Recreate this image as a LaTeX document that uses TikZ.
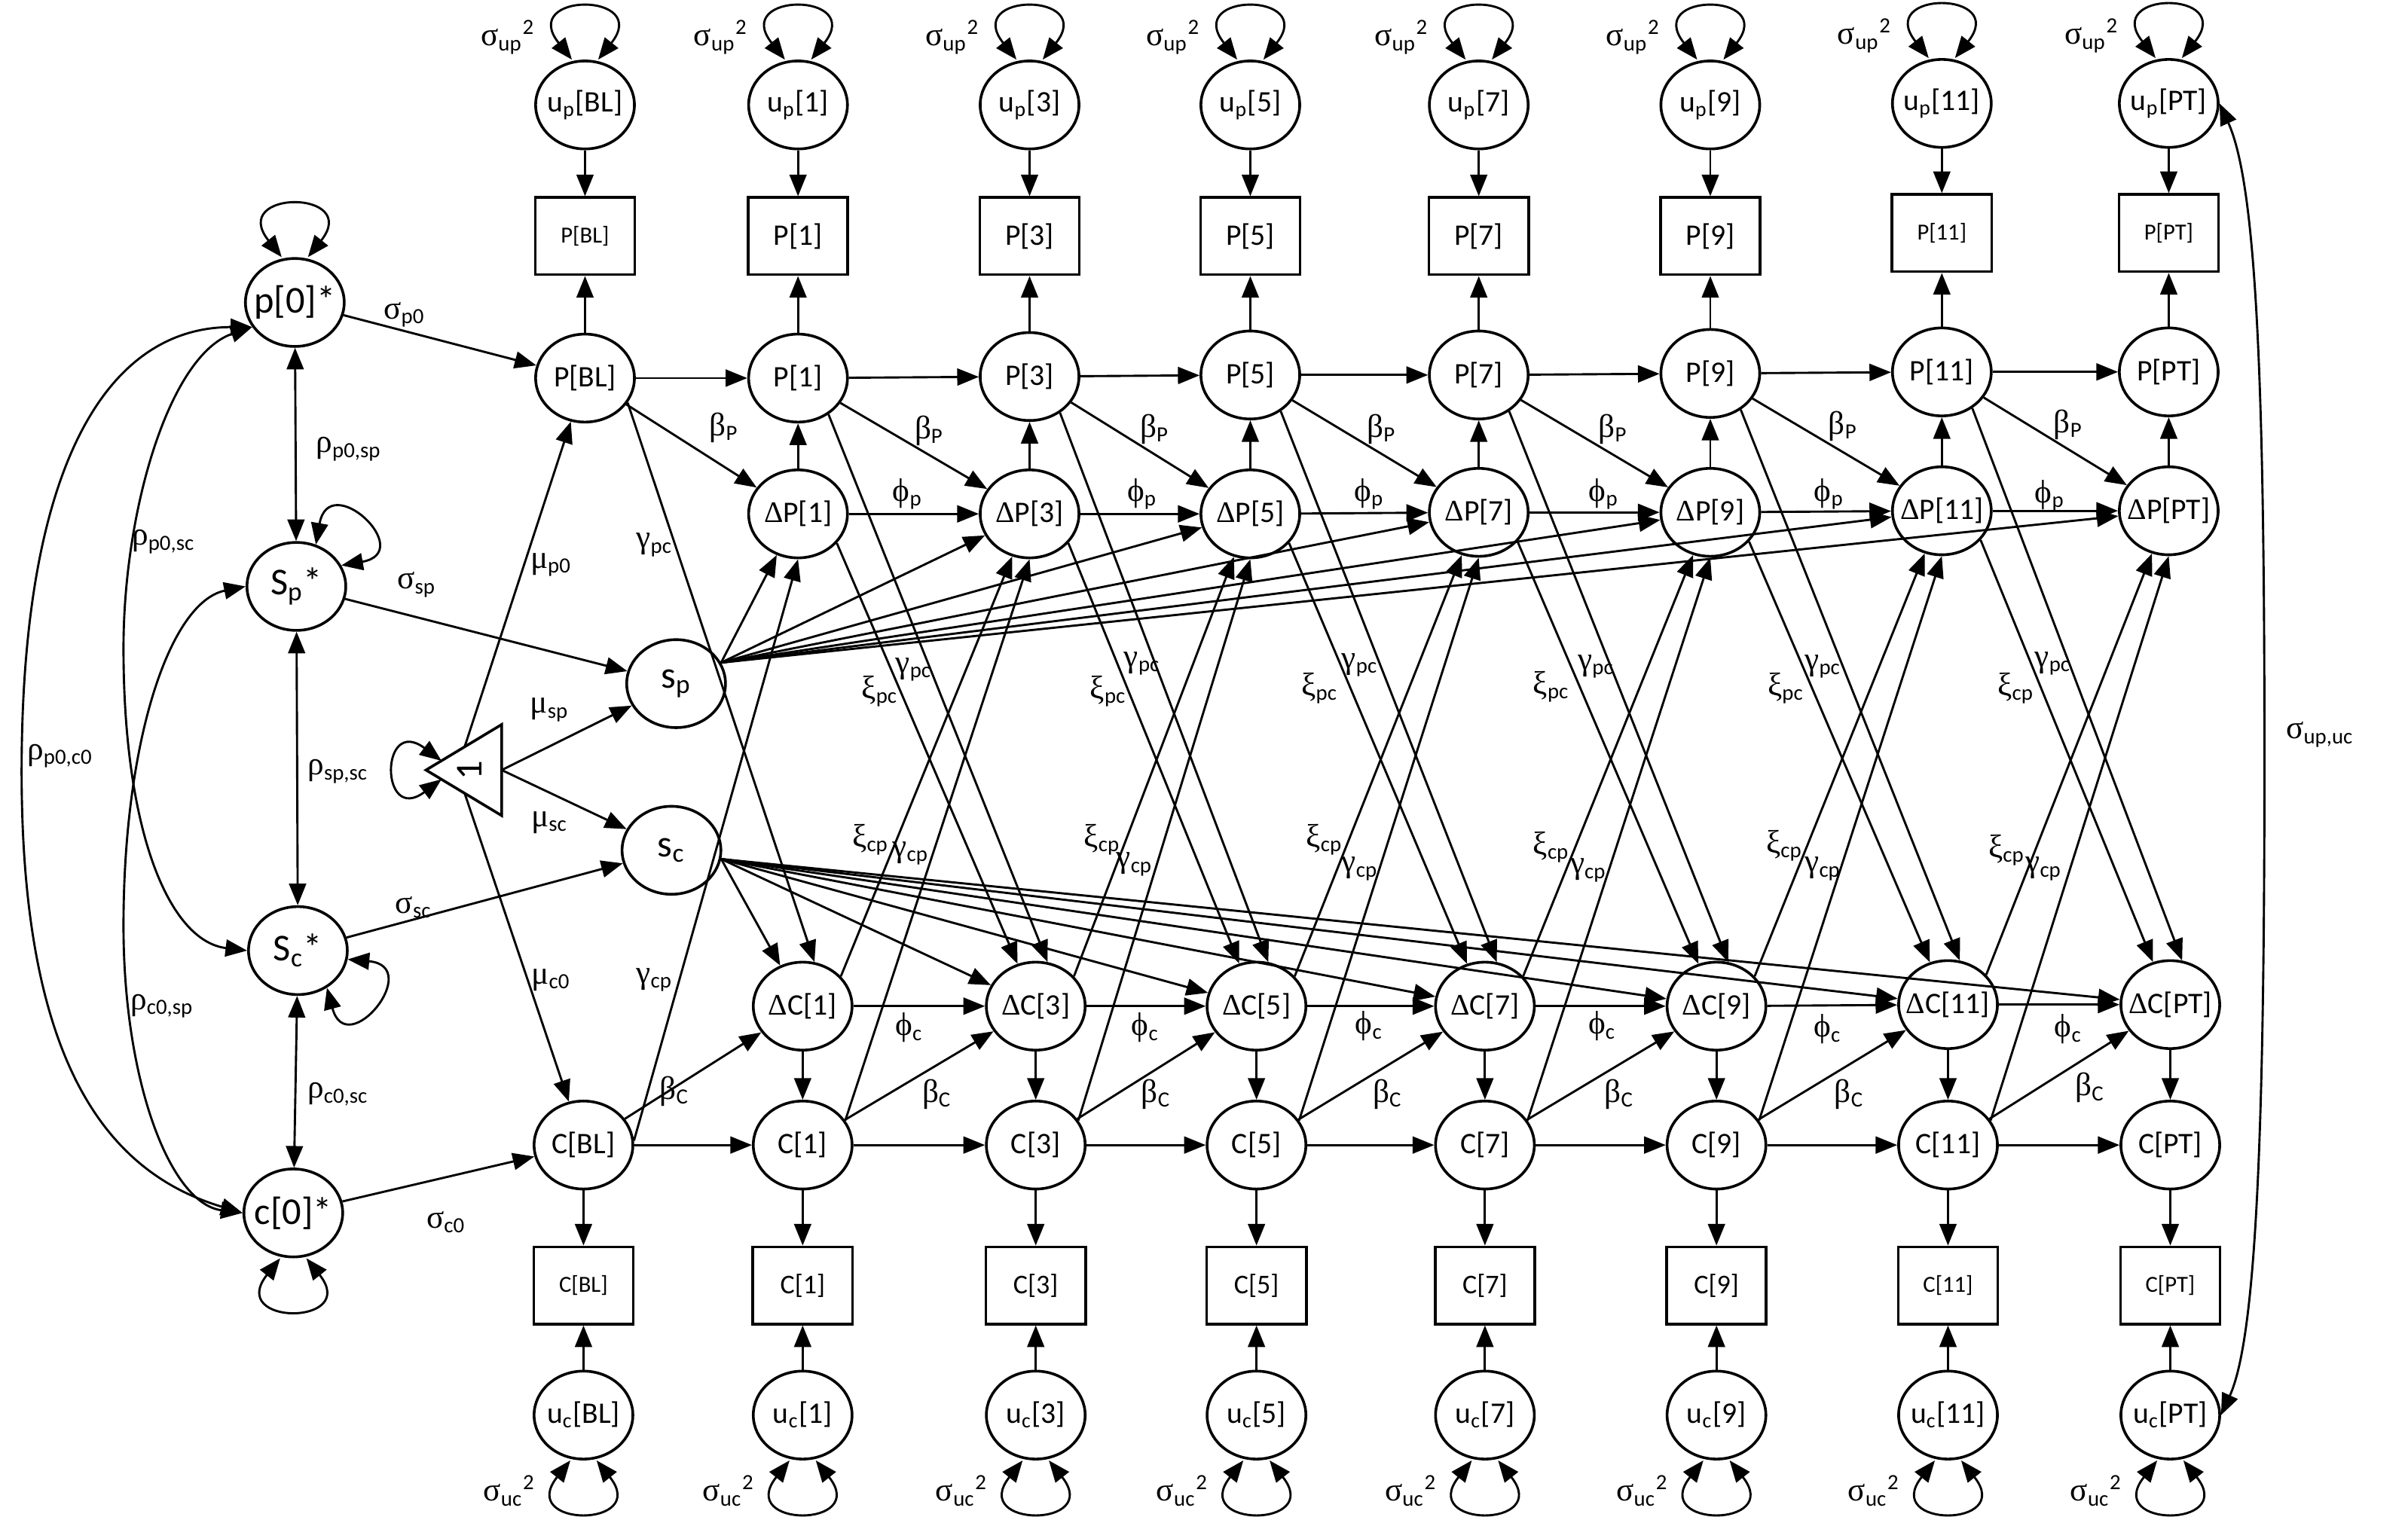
\documentclass[tikz,border=0pt]{standalone}
\usepackage{fontspec}
\setmainfont{Carlito}
\newfontfamily\grk{Liberation Serif}
\usetikzlibrary{arrows.meta,shapes.geometric}
\newcommand{\gsub}[2]{{\grk #1}\textsubscript{#2}}

\begin{document}
\begin{tikzpicture}[x=0.2mm, y=-0.2mm, line width=0.8pt, >={Triangle[length=2.8mm,width=2.2mm]},
lat/.style={draw=black, ellipse, minimum width=12.8mm, minimum height=11.4mm, inner sep=-2.5mm, line width=1pt, font=\fontsize{11}{13}\selectfont},
big/.style={font=\fontsize{14}{16}\selectfont},
obs/.style={draw=black, rectangle, minimum width=12.9mm, minimum height=10mm, inner sep=0pt, line width=1pt, font=\fontsize{11}{13}\selectfont},
obsc/.style={obs, font=\fontsize{10}{12}\selectfont},
obss/.style={obs, font=\fontsize{8.5}{10}\selectfont},
lab/.style={inner sep=0pt, font=\fontsize{12}{14}\selectfont}]

\useasboundingbox (0,0) rectangle (1560,982.6);

\node [lat, big] (p0) at (191,196) {p[0]*};
\node [lat, big] (sps) at (192,380) {S\textsubscript{p}*};
\node [lat, big] (scs) at (193,616) {S\textsubscript{c}*};
\node [lat, big] (c0) at (190,786) {c[0]*};
\node [lat, big] (s_p) at (438,443) {s\textsubscript{p}};
\node [lat, big] (s_c) at (435,551) {s\textsubscript{c}};

\coordinate (tri_apex) at (276,499);
\coordinate (tri_top) at (325,469.5);
\coordinate (tri_bot) at (325,528.5);
\coordinate (tri_up) at (301,484);
\coordinate (tri_lo) at (301,514);
\coordinate (tri_base) at (325,499);
\coordinate (tri_l1) at (286,493);
\coordinate (tri_l2) at (286,505);
\draw[line width=1pt] (tri_apex)--(tri_top)--(tri_bot)--cycle;
\node [rotate=90, font=\fontsize{14}{16}\selectfont] (one) at (304,499) {1};

\node [lat] (up_bl) at (379,68) {u\textsubscript{p}[BL]};
\node [lat] (up_1) at (517,68) {u\textsubscript{p}[1]};
\node [lat] (up_3) at (667,68) {u\textsubscript{p}[3]};
\node [lat] (up_5) at (810,68) {u\textsubscript{p}[5]};
\node [lat] (up_7) at (958,68) {u\textsubscript{p}[7]};
\node [lat] (up_9) at (1108,68) {u\textsubscript{p}[9]};
\node [lat] (up_11) at (1258,67) {u\textsubscript{p}[11]};
\node [lat] (up_pt) at (1405,67) {u\textsubscript{p}[PT]};

\node [obss] (pbox_bl) at (379,153) {P[BL]};
\node [obs] (pbox_1) at (517,153) {P[1]};
\node [obs] (pbox_3) at (667,153) {P[3]};
\node [obs] (pbox_5) at (810,153) {P[5]};
\node [obs] (pbox_7) at (958,153) {P[7]};
\node [obs] (pbox_9) at (1108,153) {P[9]};
\node [obss] (pbox_11) at (1258,151) {P[11]};
\node [obss] (pbox_pt) at (1405,151) {P[PT]};

\node [lat] (p_bl) at (379,245) {P[BL]};
\node [lat] (p_1) at (517,245) {P[1]};
\node [lat] (p_3) at (667,244) {P[3]};
\node [lat] (p_5) at (810,243) {P[5]};
\node [lat] (p_7) at (958,243) {P[7]};
\node [lat] (p_9) at (1108,242) {P[9]};
\node [lat] (p_11) at (1258,241) {P[11]};
\node [lat] (p_pt) at (1405,241) {P[PT]};

\node [lat] (dp_1) at (517,333) {{\grk Δ}P[1]};
\node [lat] (dp_3) at (667,333) {{\grk Δ}P[3]};
\node [lat] (dp_5) at (810,333) {{\grk Δ}P[5]};
\node [lat] (dp_7) at (958,332) {{\grk Δ}P[7]};
\node [lat] (dp_9) at (1108,332) {{\grk Δ}P[9]};
\node [lat] (dp_11) at (1258,331) {{\grk Δ}P[11]};
\node [lat] (dp_pt) at (1405,331) {{\grk Δ}P[PT]};

\node [lat] (dc_1) at (520,652) {{\grk Δ}C[1]};
\node [lat] (dc_3) at (671,652) {{\grk Δ}C[3]};
\node [lat] (dc_5) at (814,652) {{\grk Δ}C[5]};
\node [lat] (dc_7) at (962,652) {{\grk Δ}C[7]};
\node [lat] (dc_9) at (1112,652) {{\grk Δ}C[9]};
\node [lat] (dc_11) at (1262,651) {{\grk Δ}C[11]};
\node [lat] (dc_pt) at (1406,651) {{\grk Δ}C[PT]};

\node [lat] (c_bl) at (378,742) {C[BL]};
\node [lat] (c_1) at (520,742) {C[1]};
\node [lat] (c_3) at (671,742) {C[3]};
\node [lat] (c_5) at (814,742) {C[5]};
\node [lat] (c_7) at (962,742) {C[7]};
\node [lat] (c_9) at (1112,742) {C[9]};
\node [lat] (c_11) at (1262,742) {C[11]};
\node [lat] (c_pt) at (1406,742) {C[PT]};

\node [obss] (cbox_bl) at (378,833) {C[BL]};
\node [obsc] (cbox_1) at (520,833) {C[1]};
\node [obsc] (cbox_3) at (671,833) {C[3]};
\node [obsc] (cbox_5) at (814,833) {C[5]};
\node [obsc] (cbox_7) at (962,833) {C[7]};
\node [obsc] (cbox_9) at (1112,833) {C[9]};
\node [obss] (cbox_11) at (1262,833) {C[11]};
\node [obss] (cbox_pt) at (1406,833) {C[PT]};

\node [lat] (uc_bl) at (378,917) {u\textsubscript{c}[BL]};
\node [lat] (uc_1) at (520,917) {u\textsubscript{c}[1]};
\node [lat] (uc_3) at (671,917) {u\textsubscript{c}[3]};
\node [lat] (uc_5) at (814,917) {u\textsubscript{c}[5]};
\node [lat] (uc_7) at (962,917) {u\textsubscript{c}[7]};
\node [lat] (uc_9) at (1112,917) {u\textsubscript{c}[9]};
\node [lat] (uc_11) at (1262,917) {u\textsubscript{c}[11]};
\node [lat] (uc_pt) at (1406,917) {u\textsubscript{c}[PT]};

\node [lab] (vup_bl) at (329,24) {\gsub{σ}{up}\textsuperscript{2}};
\node [lab] (vup_1) at (467,24) {\gsub{σ}{up}\textsuperscript{2}};
\node [lab] (vup_3) at (617,24) {\gsub{σ}{up}\textsuperscript{2}};
\node [lab] (vup_5) at (760,24) {\gsub{σ}{up}\textsuperscript{2}};
\node [lab] (vup_7) at (908,24) {\gsub{σ}{up}\textsuperscript{2}};
\node [lab] (vup_9) at (1058,24) {\gsub{σ}{up}\textsuperscript{2}};
\node [lab] (vup_11) at (1208,23) {\gsub{σ}{up}\textsuperscript{2}};
\node [lab] (vup_pt) at (1355,23) {\gsub{σ}{up}\textsuperscript{2}};

\node [lab] (vuc_bl) at (330,966) {\gsub{σ}{uc}\textsuperscript{2}};
\node [lab] (vuc_1) at (472,966) {\gsub{σ}{uc}\textsuperscript{2}};
\node [lab] (vuc_3) at (623,966) {\gsub{σ}{uc}\textsuperscript{2}};
\node [lab] (vuc_5) at (766,966) {\gsub{σ}{uc}\textsuperscript{2}};
\node [lab] (vuc_7) at (914,966) {\gsub{σ}{uc}\textsuperscript{2}};
\node [lab] (vuc_9) at (1064,966) {\gsub{σ}{uc}\textsuperscript{2}};
\node [lab] (vuc_11) at (1214,966) {\gsub{σ}{uc}\textsuperscript{2}};
\node [lab] (vuc_pt) at (1358,966) {\gsub{σ}{uc}\textsuperscript{2}};

\node [lab] (l_sp0) at (262,204) {\gsub{σ}{p0}};
\node [lab] (l_ssp) at (270,379) {\gsub{σ}{sp}};
\node [lab] (l_ssc) at (268,588) {\gsub{σ}{sc}};
\node [lab] (l_sc0) at (289,792) {\gsub{σ}{c0}};
\node [lab] (l_rp0sp) at (226,291) {\gsub{ρ}{p0,sp}};
\node [lab] (l_rp0sc) at (106,351) {\gsub{ρ}{p0,sc}};
\node [lab] (l_rp0c0) at (39,490) {\gsub{ρ}{p0,c0}};
\node [lab] (l_rspsc) at (219,500) {\gsub{ρ}{sp,sc}};
\node [lab] (l_rc0sp) at (105,652) {\gsub{ρ}{c0,sp}};
\node [lab] (l_rc0sc) at (219,709) {\gsub{ρ}{c0,sc}};
\node [lab] (l_mp0) at (357,366) {\gsub{μ}{p0}};
\node [lab] (l_msp) at (356,460) {\gsub{μ}{sp}};
\node [lab] (l_msc) at (356,533) {\gsub{μ}{sc}};
\node [lab] (l_mc0) at (357,635) {\gsub{μ}{c0}};
\node [lab] (l_spuc) at (1503,476) {\gsub{σ}{up,uc}};

\node [lab] (l_gpc_bl) at (424,353) {\gsub{γ}{pc}};
\node [lab] (l_gcp_bl) at (424,635) {\gsub{γ}{cp}};

\node [lab] (l_bp_1) at (469,277) {\gsub{β}{P}};
\node [lab] (l_bp_3) at (602,279) {\gsub{β}{P}};
\node [lab] (l_bp_5) at (748,278) {\gsub{β}{P}};
\node [lab] (l_bp_7) at (895,278) {\gsub{β}{P}};
\node [lab] (l_bp_9) at (1045,278) {\gsub{β}{P}};
\node [lab] (l_bp_11) at (1194,276) {\gsub{β}{P}};
\node [lab] (l_bp_pt) at (1340,275) {\gsub{β}{P}};

\node [lab] (l_bc_1) at (437,707) {\gsub{β}{C}};
\node [lab] (l_bc_3) at (607,709) {\gsub{β}{C}};
\node [lab] (l_bc_5) at (749,709) {\gsub{β}{C}};
\node [lab] (l_bc_7) at (899,709) {\gsub{β}{C}};
\node [lab] (l_bc_9) at (1049,709) {\gsub{β}{C}};
\node [lab] (l_bc_11) at (1198,709) {\gsub{β}{C}};
\node [lab] (l_bc_pt) at (1354,705) {\gsub{β}{C}};

\node [lab] (l_fp_3) at (588,320) {\gsub{ϕ}{p}};
\node [lab] (l_fp_5) at (740,320) {\gsub{ϕ}{p}};
\node [lab] (l_fp_7) at (887,320) {\gsub{ϕ}{p}};
\node [lab] (l_fp_9) at (1039,320) {\gsub{ϕ}{p}};
\node [lab] (l_fp_11) at (1185,320) {\gsub{ϕ}{p}};
\node [lab] (l_fp_pt) at (1328,321) {\gsub{ϕ}{p}};

\node [lab] (l_fc_3) at (589,666) {\gsub{ϕ}{c}};
\node [lab] (l_fc_5) at (742,666) {\gsub{ϕ}{c}};
\node [lab] (l_fc_7) at (887,665) {\gsub{ϕ}{c}};
\node [lab] (l_fc_9) at (1038,665) {\gsub{ϕ}{c}};
\node [lab] (l_fc_11) at (1184,667) {\gsub{ϕ}{c}};
\node [lab] (l_fc_pt) at (1340,667) {\gsub{ϕ}{c}};

\node [lab] (l_xpc_3) at (570,448) {\gsub{ξ}{pc}};
\node [lab] (l_gpc_3) at (592,434) {\gsub{γ}{pc}};
\node [lab] (l_xpc_5) at (718,448) {\gsub{ξ}{pc}};
\node [lab] (l_gpc_5) at (740,430) {\gsub{γ}{pc}};
\node [lab] (l_xpc_7) at (855,446) {\gsub{ξ}{pc}};
\node [lab] (l_gpc_7) at (881,431) {\gsub{γ}{pc}};
\node [lab] (l_xpc_9) at (1005,445) {\gsub{ξ}{pc}};
\node [lab] (l_gpc_9) at (1034,432) {\gsub{γ}{pc}};
\node [lab] (l_xpc_11) at (1157,446) {\gsub{ξ}{pc}};
\node [lab] (l_gpc_11) at (1181,432) {\gsub{γ}{pc}};
\node [lab] (l_xpc_pt) at (1306,446) {\gsub{ξ}{cp}};
\node [lab] (l_gpc_pt) at (1330,430) {\gsub{γ}{pc}};

\node [lab] (l_xcp_3) at (564,544) {\gsub{ξ}{cp}};
\node [lab] (l_gcp_3) at (590,553) {\gsub{γ}{cp}};
\node [lab] (l_xcp_5) at (714,544) {\gsub{ξ}{cp}};
\node [lab] (l_gcp_5) at (735,560) {\gsub{γ}{cp}};
\node [lab] (l_xcp_7) at (858,544) {\gsub{ξ}{cp}};
\node [lab] (l_gcp_7) at (881,563) {\gsub{γ}{cp}};
\node [lab] (l_xcp_9) at (1005,549) {\gsub{ξ}{cp}};
\node [lab] (l_gcp_9) at (1029,564) {\gsub{γ}{cp}};
\node [lab] (l_xcp_11) at (1156,548) {\gsub{ξ}{cp}};
\node [lab] (l_gcp_11) at (1181,563) {\gsub{γ}{cp}};
\node [lab] (l_xcp_pt) at (1300,551) {\gsub{ξ}{cp}};
\node [lab] (l_gcp_pt) at (1324,563) {\gsub{γ}{cp}};

\draw[<->] ([xshift=-1.7mm]p0.north) .. controls +(-7mm,8.8mm) and +(7mm,8.8mm) .. ([xshift=1.7mm]p0.north);
\draw[<->] ([xshift=-1.7mm]c0.south) .. controls +(-7mm,-8.8mm) and +(7mm,-8.8mm) .. ([xshift=1.7mm]c0.south);
\draw[<->] (sps.65) .. controls +(80:10mm) and +(10:10mm) .. (sps.25);
\draw[<->] (scs.-10) .. controls +(-5:10mm) and +(-75:10mm) .. (scs.-52);
\draw[<->] (tri_l1) .. controls +(-40,-30) and +(-40,30) .. (tri_l2);

\draw[<->] ([xshift=-1.7mm]up_bl.north) .. controls +(-7mm,8.8mm) and +(7mm,8.8mm) .. ([xshift=1.7mm]up_bl.north);
\draw[<->] ([xshift=-1.7mm]up_1.north) .. controls +(-7mm,8.8mm) and +(7mm,8.8mm) .. ([xshift=1.7mm]up_1.north);
\draw[<->] ([xshift=-1.7mm]up_3.north) .. controls +(-7mm,8.8mm) and +(7mm,8.8mm) .. ([xshift=1.7mm]up_3.north);
\draw[<->] ([xshift=-1.7mm]up_5.north) .. controls +(-7mm,8.8mm) and +(7mm,8.8mm) .. ([xshift=1.7mm]up_5.north);
\draw[<->] ([xshift=-1.7mm]up_7.north) .. controls +(-7mm,8.8mm) and +(7mm,8.8mm) .. ([xshift=1.7mm]up_7.north);
\draw[<->] ([xshift=-1.7mm]up_9.north) .. controls +(-7mm,8.8mm) and +(7mm,8.8mm) .. ([xshift=1.7mm]up_9.north);
\draw[<->] ([xshift=-1.7mm]up_11.north) .. controls +(-7mm,8.8mm) and +(7mm,8.8mm) .. ([xshift=1.7mm]up_11.north);
\draw[<->] ([xshift=-1.7mm]up_pt.north) .. controls +(-7mm,8.8mm) and +(7mm,8.8mm) .. ([xshift=1.7mm]up_pt.north);

\draw[<->] ([xshift=-1.7mm]uc_bl.south) .. controls +(-7mm,-8.8mm) and +(7mm,-8.8mm) .. ([xshift=1.7mm]uc_bl.south);
\draw[<->] ([xshift=-1.7mm]uc_1.south) .. controls +(-7mm,-8.8mm) and +(7mm,-8.8mm) .. ([xshift=1.7mm]uc_1.south);
\draw[<->] ([xshift=-1.7mm]uc_3.south) .. controls +(-7mm,-8.8mm) and +(7mm,-8.8mm) .. ([xshift=1.7mm]uc_3.south);
\draw[<->] ([xshift=-1.7mm]uc_5.south) .. controls +(-7mm,-8.8mm) and +(7mm,-8.8mm) .. ([xshift=1.7mm]uc_5.south);
\draw[<->] ([xshift=-1.7mm]uc_7.south) .. controls +(-7mm,-8.8mm) and +(7mm,-8.8mm) .. ([xshift=1.7mm]uc_7.south);
\draw[<->] ([xshift=-1.7mm]uc_9.south) .. controls +(-7mm,-8.8mm) and +(7mm,-8.8mm) .. ([xshift=1.7mm]uc_9.south);
\draw[<->] ([xshift=-1.7mm]uc_11.south) .. controls +(-7mm,-8.8mm) and +(7mm,-8.8mm) .. ([xshift=1.7mm]uc_11.south);
\draw[<->] ([xshift=-1.7mm]uc_pt.south) .. controls +(-7mm,-8.8mm) and +(7mm,-8.8mm) .. ([xshift=1.7mm]uc_pt.south);

\draw[->] (p0)--(p_bl);
\draw[->] (sps)--(s_p);
\draw[->] (scs)--(s_c);
\draw[->] (c0)--(c_bl);
\draw[<->] (p0)--(sps);
\draw[<->] (sps)--(scs);
\draw[<->] (scs)--(c0);
\draw[->] (tri_up)--(p_bl);
\draw[->] (tri_lo)--(c_bl);
\draw[->] (tri_base)--(s_p);
\draw[->] (tri_base)--(s_c);

\draw[<->] (p0.-150) .. controls (70,212) and (14,300) .. (14,500) .. controls (14,690) and (70,760) .. (c0.180);
\draw[<->] (p0.-150) .. controls (110,230) and (80,330) .. (80,420) .. controls (80,540) and (110,610) .. (scs.180);
\draw[<->] (sps.180) .. controls (110,390) and (80,480) .. (80,600) .. controls (80,700) and (110,780) .. (c0.180);
\draw[<->] (up_pt.east) .. controls (1462,120) and (1467,250) .. (1467,490) .. controls (1467,730) and (1462,866) .. (uc_pt.east);

\draw[->] (up_bl)--(pbox_bl);
\draw[->] (up_1)--(pbox_1);
\draw[->] (up_3)--(pbox_3);
\draw[->] (up_5)--(pbox_5);
\draw[->] (up_7)--(pbox_7);
\draw[->] (up_9)--(pbox_9);
\draw[->] (up_11)--(pbox_11);
\draw[->] (up_pt)--(pbox_pt);

\draw[->] (p_bl)--(pbox_bl);
\draw[->] (p_1)--(pbox_1);
\draw[->] (p_3)--(pbox_3);
\draw[->] (p_5)--(pbox_5);
\draw[->] (p_7)--(pbox_7);
\draw[->] (p_9)--(pbox_9);
\draw[->] (p_11)--(pbox_11);
\draw[->] (p_pt)--(pbox_pt);

\draw[->] (dp_1)--(p_1);
\draw[->] (dp_3)--(p_3);
\draw[->] (dp_5)--(p_5);
\draw[->] (dp_7)--(p_7);
\draw[->] (dp_9)--(p_9);
\draw[->] (dp_11)--(p_11);
\draw[->] (dp_pt)--(p_pt);

\draw[->] (p_bl)--(p_1);
\draw[->] (p_1)--(p_3);
\draw[->] (p_3)--(p_5);
\draw[->] (p_5)--(p_7);
\draw[->] (p_7)--(p_9);
\draw[->] (p_9)--(p_11);
\draw[->] (p_11)--(p_pt);

\draw[->] (dp_1)--(dp_3);
\draw[->] (dp_3)--(dp_5);
\draw[->] (dp_5)--(dp_7);
\draw[->] (dp_7)--(dp_9);
\draw[->] (dp_9)--(dp_11);
\draw[->] (dp_11)--(dp_pt);

\draw[->] (p_bl)--(dp_1);
\draw[->] (p_1)--(dp_3);
\draw[->] (p_3)--(dp_5);
\draw[->] (p_5)--(dp_7);
\draw[->] (p_7)--(dp_9);
\draw[->] (p_9)--(dp_11);
\draw[->] (p_11)--(dp_pt);

\draw[->] (dc_1)--(dc_3);
\draw[->] (dc_3)--(dc_5);
\draw[->] (dc_5)--(dc_7);
\draw[->] (dc_7)--(dc_9);
\draw[->] (dc_9)--(dc_11);
\draw[->] (dc_11)--(dc_pt);

\draw[->] (c_bl)--(c_1);
\draw[->] (c_1)--(c_3);
\draw[->] (c_3)--(c_5);
\draw[->] (c_5)--(c_7);
\draw[->] (c_7)--(c_9);
\draw[->] (c_9)--(c_11);
\draw[->] (c_11)--(c_pt);

\draw[->] (c_bl)--(dc_1);
\draw[->] (c_1)--(dc_3);
\draw[->] (c_3)--(dc_5);
\draw[->] (c_5)--(dc_7);
\draw[->] (c_7)--(dc_9);
\draw[->] (c_9)--(dc_11);
\draw[->] (c_11)--(dc_pt);

\draw[->] (dc_1)--(c_1);
\draw[->] (dc_3)--(c_3);
\draw[->] (dc_5)--(c_5);
\draw[->] (dc_7)--(c_7);
\draw[->] (dc_9)--(c_9);
\draw[->] (dc_11)--(c_11);
\draw[->] (dc_pt)--(c_pt);

\draw[->] (c_bl)--(cbox_bl);
\draw[->] (c_1)--(cbox_1);
\draw[->] (c_3)--(cbox_3);
\draw[->] (c_5)--(cbox_5);
\draw[->] (c_7)--(cbox_7);
\draw[->] (c_9)--(cbox_9);
\draw[->] (c_11)--(cbox_11);
\draw[->] (c_pt)--(cbox_pt);

\draw[->] (uc_bl)--(cbox_bl);
\draw[->] (uc_1)--(cbox_1);
\draw[->] (uc_3)--(cbox_3);
\draw[->] (uc_5)--(cbox_5);
\draw[->] (uc_7)--(cbox_7);
\draw[->] (uc_9)--(cbox_9);
\draw[->] (uc_11)--(cbox_11);
\draw[->] (uc_pt)--(cbox_pt);

\draw[->] (p_bl.-30)--(dc_1.75);
\draw[->] (p_1.-50)--(dc_3.75);
\draw[->] (p_3.-50)--(dc_5.75);
\draw[->] (p_5.-50)--(dc_7.75);
\draw[->] (p_7.-50)--(dc_9.75);
\draw[->] (p_9.-50)--(dc_11.75);
\draw[->] (p_11.-50)--(dc_pt.75);

\draw[->] (dp_1.-37)--(dc_3);
\draw[->] (dp_3.-37)--(dc_5);
\draw[->] (dp_5.-37)--(dc_7);
\draw[->] (dp_7.-37)--(dc_9);
\draw[->] (dp_9.-37)--(dc_11);
\draw[->] (dp_11.-37)--(dc_pt);

\draw[->] (c_bl.5)--(dp_1.-90);
\draw[->] (c_1.30)--(dp_3.-90);
\draw[->] (c_3.30)--(dp_5.-90);
\draw[->] (c_5.30)--(dp_7.-90);
\draw[->] (c_7.30)--(dp_9.-90);
\draw[->] (c_9.30)--(dp_11.-90);
\draw[->] (c_11.30)--(dp_pt.-90);

\draw[->] (dc_1.38)--(dp_3);
\draw[->] (dc_3.38)--(dp_5);
\draw[->] (dc_5.38)--(dp_7);
\draw[->] (dc_7.38)--(dp_9);
\draw[->] (dc_9.38)--(dp_11);
\draw[->] (dc_11.38)--(dp_pt);

\draw[->] (s_p.25)--(dp_1);
\draw[->] (s_p.25)--(dp_3);
\draw[->] (s_p.25)--(dp_5);
\draw[->] (s_p.25)--(dp_7);
\draw[->] (s_p.25)--(dp_9);
\draw[->] (s_p.25)--(dp_11);
\draw[->] (s_p.25)--(dp_pt);

\draw[->] (s_c.-10)--(dc_1);
\draw[->] (s_c.-10)--(dc_3);
\draw[->] (s_c.-10)--(dc_5);
\draw[->] (s_c.-10)--(dc_7);
\draw[->] (s_c.-10)--(dc_9);
\draw[->] (s_c.-10)--(dc_11);
\draw[->] (s_c.-10)--(dc_pt);

\end{tikzpicture}
\end{document}
